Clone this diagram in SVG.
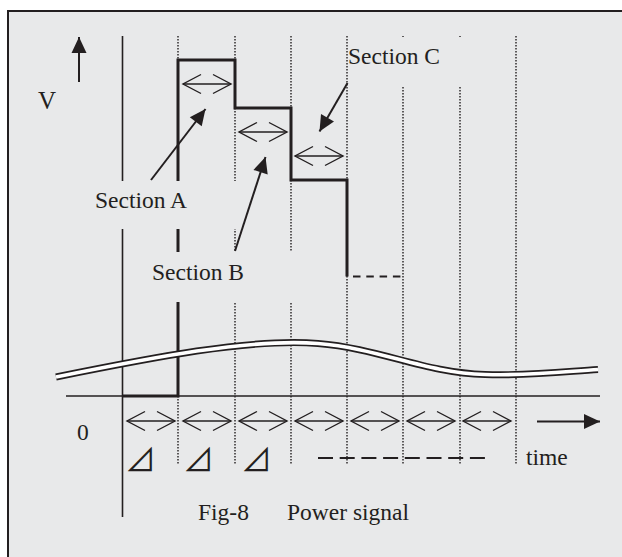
<svg xmlns="http://www.w3.org/2000/svg" width="622" height="557" viewBox="0 0 622 557">
<defs>
<style>
.t{font-family:"Liberation Serif","Times New Roman",serif;font-size:23.5px;fill:#231f20}
.d{font-family:"Noto Sans CJK JP","Noto Sans CJK SC",sans-serif;font-size:31px;fill:#231f20}
.dot{stroke:#231f20;stroke-width:1.4;stroke-dasharray:1.4 1.6;fill:none}
.ax{stroke:#231f20;stroke-width:1.6;fill:none}
.thick{stroke:#231f20;stroke-width:3;fill:none}
.dbl{stroke:#231f20;stroke-width:1.3;fill:none;marker-start:url(#chev);marker-end:url(#chev)}
.ptr{stroke:#231f20;stroke-width:2;fill:none;marker-end:url(#head)}
.bg{fill:#e8e9ea}
</style>
<marker id="chev" markerUnits="userSpaceOnUse" markerWidth="24" markerHeight="24" refX="0" refY="0" viewBox="-20 -12 24 24" orient="auto-start-reverse" overflow="visible">
<path d="M-18,-9.5 L0,0 L-18,9.5" fill="none" stroke="#231f20" stroke-width="1.4"/>
</marker>
<marker id="head" markerUnits="userSpaceOnUse" markerWidth="20" markerHeight="20" refX="0" refY="0" viewBox="-18 -10 20 20" orient="auto" overflow="visible">
<path d="M0,0 L-16,-7.5 L-16,7.5 Z" fill="#231f20"/>
</marker>
</defs>
<rect x="0" y="0" width="622" height="557" fill="#ffffff"/>
<rect x="8" y="11" width="614" height="546" fill="#e8e9ea"/>
<path d="M8,557 L8,11 L622,11" fill="none" stroke="#231f20" stroke-width="2"/>

<g id="grid">
<line class="dot" x1="178" y1="36" x2="178" y2="465"/>
<line class="dot" x1="235" y1="36" x2="235" y2="465"/>
<line class="dot" x1="291" y1="36" x2="291" y2="465"/>
<line class="dot" x1="347" y1="36" x2="347" y2="465"/>
<line class="dot" x1="403" y1="36" x2="403" y2="465"/>
<line class="dot" x1="460" y1="36" x2="460" y2="465"/>
<line class="dot" x1="516" y1="36" x2="516" y2="465"/>
</g>

<g id="axes">
<line class="ax" x1="122.5" y1="36" x2="122.5" y2="517"/>
<line class="ax" x1="66" y1="396" x2="600" y2="396"/>
<line class="ptr" x1="79" y1="82" x2="79" y2="37"/>
<line class="ptr" x1="537" y1="421.5" x2="600" y2="421.5"/>
</g>

<g id="signal">
<path class="thick" d="M122,396 L178,396 L178,60 L235,60 L235,108 L291,108 L291,180 L347,180 L347,276.5"/>
<line x1="349" y1="276.5" x2="403" y2="276.5" stroke="#231f20" stroke-width="2" stroke-dasharray="7.5 5.8" stroke-dashoffset="-4"/>
</g>

<g id="curve">
<path d="M56,377 C 150,358 250,338 318,343.5 C 380,348.5 425,373 485,374.5 C 535,376 570,371 598,369.5" fill="none" stroke="#231f20" stroke-width="7"/>
<path d="M56,377 C 150,358 250,338 318,343.5 C 380,348.5 425,373 485,374.5 C 535,376 570,371 598,369.5" fill="none" stroke="#ffffff" stroke-width="3.6"/>
</g>

<g id="label-V"><text class="t" x="38" y="109" style="font-size:25px">V</text></g>
<g id="label-0"><text class="t" x="77" y="440">0</text></g>
<g id="label-time"><text class="t" x="526" y="465">time</text></g>

<g id="sectionA">
<rect class="bg" x="110" y="181" width="135" height="48"/>
<text class="t" x="95" y="208">Section A</text>
</g>
<g id="sectionB">
<rect class="bg" x="130" y="252" width="172" height="50"/>
<text class="t" x="152" y="280">Section B</text>
</g>
<g id="sectionC">
<rect class="bg" x="351" y="37" width="163" height="49"/>
<text class="t" x="348" y="64">Section C</text>
</g>

<g id="intervals">
<line class="dbl" x1="183" y1="84" x2="231" y2="84"/>
<line class="dbl" x1="239" y1="132" x2="287" y2="132"/>
<line class="dbl" x1="295" y1="156" x2="343" y2="156"/>
<line class="dbl" x1="127" y1="421" x2="175" y2="421"/>
<line class="dbl" x1="183" y1="421" x2="231" y2="421"/>
<line class="dbl" x1="239" y1="421" x2="287" y2="421"/>
<line class="dbl" x1="295" y1="421" x2="343" y2="421"/>
<line class="dbl" x1="351" y1="421" x2="399" y2="421"/>
<line class="dbl" x1="407" y1="421" x2="455" y2="421"/>
<line class="dbl" x1="463" y1="421" x2="511" y2="421"/>
</g>

<g id="connectors">
<line class="ptr" x1="151" y1="180" x2="205.5" y2="109"/>
<line class="ptr" x1="235" y1="251" x2="265.5" y2="157"/>
<line class="ptr" x1="347.5" y1="83" x2="319.5" y2="131.5"/>
</g>

<g id="deltas">
<text class="d" x="125" y="470.5">⊿</text>
<text class="d" x="183" y="470.5">⊿</text>
<text class="d" x="241" y="470.5">⊿</text>
<line x1="318" y1="458" x2="485" y2="458" stroke="#231f20" stroke-width="1.8" stroke-dasharray="15 6.7"/>
</g>

<g id="caption">
<text class="t" x="198" y="520">Fig-8</text>
<text class="t" x="287" y="520">Power signal</text>
</g>
</svg>
